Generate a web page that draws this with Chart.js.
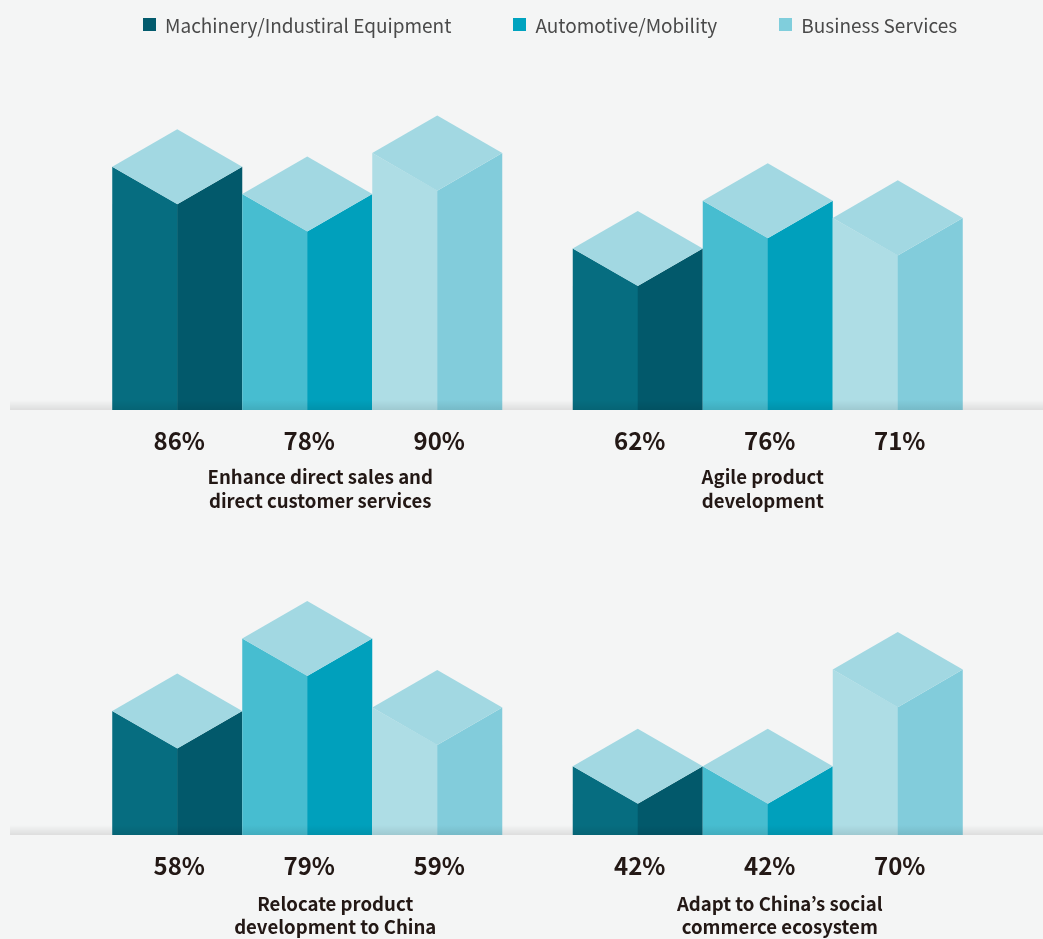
<!DOCTYPE html>
<html>
<head>
<meta charset="utf-8">
<title>Strategic priorities by industry</title>
<script src="https://cdn.jsdelivr.net/npm/chart.js@4.4.1/dist/chart.umd.min.js"></script>
<style>
  html, body { margin: 0; padding: 0; background: #f4f5f5; }
  #wrap { position: relative; width: 1043px; height: 939px; overflow: hidden; }
  #legend {
    position: absolute; top: 11px; left: 143px;
    display: flex; align-items: center; gap: 62px;
    font-family: 'Noto Sans CJK JP', 'Noto Sans', sans-serif;
    font-size: 19px; color: #4a4a4a; white-space: nowrap;
  }
  #legend .item { display: flex; align-items: center; }
  #legend .box { width: 13px; height: 13px; margin-right: 9px; }
  #topChart { position: absolute; left: 0; top: 0; }
  #bottomChart { position: absolute; left: 0; top: 520px; }
</style>
</head>
<body>
<div id="wrap">
  <canvas id="topChart" width="1043" height="520"></canvas>
  <canvas id="bottomChart" width="1043" height="419"></canvas>
  <div id="legend"></div>
</div>
<script>
// Series and categories
const seriesNames = ['Machinery/Industiral Equipment', 'Automotive/Mobility', 'Business Services'];

const topCategories = [
    ['Enhance direct sales and', 'direct customer services'],
    ['Agile product', 'development']
];
const bottomCategories = [
    ['Relocate product', 'development to China'],
    ['Adapt to China\u2019s social', 'commerce ecosystem']
];

// Share of respondents (%) per category
const machineryTop = [86, 62];
const automotiveTop = [78, 76];
const businessTop = [90, 71];

const machineryBottom = [58, 42];
const automotiveBottom = [79, 42];
const businessBottom = [59, 70];

// Colours for each series: legend swatch, lit face, shaded face
const legendColors = ['#035b6d', '#00a3bf', '#80cedc'];
const leftFaceColors = ['#066d80', '#47bdd0', '#aedde5'];
const rightFaceColors = ['#02596b', '#00a0bc', '#82ccdb'];
const topFaceColor = '#a2d8e2';

const FONT = "'Noto Sans CJK JP', 'Noto Sans', sans-serif";
const TEXT_COLOR = '#231815';

// HTML legend
const legendEl = document.getElementById('legend');
seriesNames.forEach((name, i) => {
    const item = document.createElement('div');
    item.className = 'item';
    const box = document.createElement('span');
    box.className = 'box';
    box.style.background = legendColors[i];
    const label = document.createElement('span');
    label.textContent = name;
    item.appendChild(box);
    item.appendChild(label);
    legendEl.appendChild(item);
});

// Draws each bar as an isometric column, then the floor shadow and the labels
const isoBars = {
    id: 'isoBars',
    afterDatasetsDraw(chart, args, opts) {
        const ctx = chart.ctx;
        const base = chart.chartArea.bottom;
        ctx.save();
        chart.data.datasets.forEach((ds, di) => {
            const meta = chart.getDatasetMeta(di);
            meta.data.forEach((bar) => {
                const hw = bar.width / 2;
                const d = hw * Math.tan(Math.PI / 6);
                const x = bar.x, y = bar.y;

                ctx.fillStyle = leftFaceColors[di];
                ctx.beginPath();
                ctx.moveTo(x - hw, y);
                ctx.lineTo(x + 0.5, y + d);
                ctx.lineTo(x + 0.5, bar.base);
                ctx.lineTo(x - hw, bar.base);
                ctx.closePath();
                ctx.fill();

                ctx.fillStyle = rightFaceColors[di];
                ctx.beginPath();
                ctx.moveTo(x, y + d);
                ctx.lineTo(x + hw, y);
                ctx.lineTo(x + hw, bar.base);
                ctx.lineTo(x, bar.base);
                ctx.closePath();
                ctx.fill();

                ctx.fillStyle = topFaceColor;
                ctx.beginPath();
                ctx.moveTo(x - hw, y);
                ctx.lineTo(x, y - d);
                ctx.lineTo(x + hw, y);
                ctx.lineTo(x, y + d);
                ctx.closePath();
                ctx.fill();
            });
        });

        // soft floor shadow along the base line
        const g = ctx.createLinearGradient(0, base - 10, 0, base);
        g.addColorStop(0, 'rgba(0,0,0,0)');
        g.addColorStop(1, 'rgba(0,0,0,0.09)');
        ctx.fillStyle = g;
        ctx.fillRect(10, base - 10, chart.width - 10, 10);

        ctx.fillStyle = TEXT_COLOR;
        ctx.textAlign = 'center';
        ctx.textBaseline = 'middle';

        // value labels under each column
        ctx.font = 'bold 24px ' + FONT;
        chart.data.datasets.forEach((ds, di) => {
            const meta = chart.getDatasetMeta(di);
            meta.data.forEach((bar, i) => {
                ctx.fillText(ds.data[i] + '%', bar.x + 2, base + 31);
            });
        });

        // category names, two lines each
        const xScale = chart.scales.x;
        ctx.font = 'bold 18.6px ' + FONT;
        chart.data.labels.forEach((lines, i) => {
            const cx = xScale.getPixelForValue(i) + opts.shift[i];
            lines.forEach((line, li) => {
                ctx.fillText(line, cx, base + opts.firstLine + li * 23.5);
            });
        });
        ctx.restore();
    }
};

function makeDatasets(machinery, automotive, business, floor) {
    return [machinery, automotive, business].map((values, i) => ({
        label: seriesNames[i],
        data: values,
        base: floor,
        backgroundColor: 'rgba(0,0,0,0)',
        borderWidth: 0,
        categoryPercentage: 0.847,
        barPercentage: 1
    }));
}

function makeChart(canvasId, labels, datasets, opts) {
    return new Chart(document.getElementById(canvasId), {
        type: 'bar',
        data: { labels: labels, datasets: datasets },
        options: {
            responsive: false,
            animation: false,
            events: [],
            layout: { padding: { top: opts.top, left: 77, right: 45, bottom: 0 } },
            plugins: {
                legend: { display: false },
                tooltip: { enabled: false },
                isoBars: { shift: opts.shift, firstLine: opts.firstLine }
            },
            scales: {
                x: {
                    grid: { display: false, drawTicks: false },
                    border: { display: false },
                    ticks: { display: false },
                    afterFit(scale) { scale.height = opts.axisHeight; }
                },
                y: {
                    display: false,
                    min: opts.min,
                    max: 100
                }
            }
        },
        plugins: [isoBars]
    });
}

const topMin = 14.65;
const bottomMin = 22.1;

makeChart('topChart', topCategories,
    makeDatasets(machineryTop, automotiveTop, businessTop, topMin),
    { top: 119, min: topMin, axisHeight: 110, shift: [13, -5], firstLine: 67 });

makeChart('bottomChart', bottomCategories,
    makeDatasets(machineryBottom, automotiveBottom, businessBottom, bottomMin),
    { top: 46, min: bottomMin, axisHeight: 104, shift: [28, 12], firstLine: 68.5 });
</script>
</body>
</html>
